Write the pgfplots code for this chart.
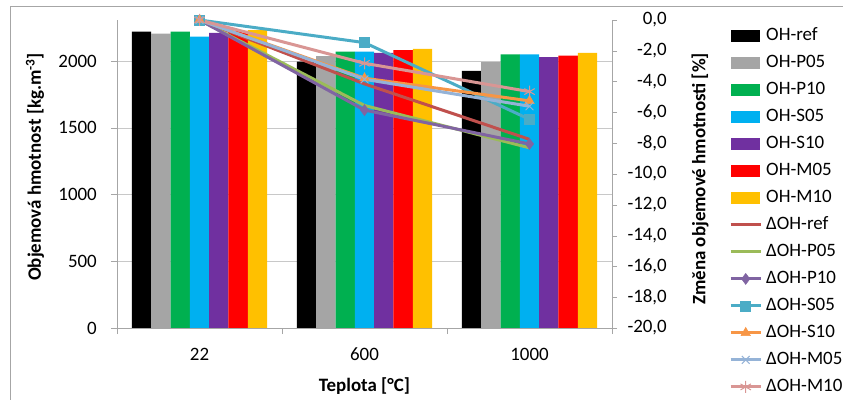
\documentclass[border=0pt]{standalone}
\usepackage{pgfplots}
\pgfplotsset{compat=1.18}
\usepackage{fontspec}
\setmainfont{Carlito}
\definecolor{cRef}{HTML}{C0504D}
\definecolor{cP05}{HTML}{9BBB59}
\definecolor{cP10}{HTML}{8064A2}
\definecolor{cS05}{HTML}{4BACC6}
\definecolor{cS10}{HTML}{F79646}
\definecolor{cM05}{HTML}{95B3D7}
\definecolor{cM10}{HTML}{D99694}
\definecolor{bGray}{HTML}{A5A5A5}
\definecolor{bGreen}{HTML}{00B050}
\definecolor{bCyan}{HTML}{00B0F0}
\definecolor{bPurple}{HTML}{7030A0}
\definecolor{bRed}{HTML}{FF0000}
\definecolor{bYellow}{HTML}{FFC000}
\definecolor{axgray}{HTML}{A6A6A6}
\definecolor{gridgray}{HTML}{C8C8C8}
\pgfplotsset{
  barleg/.style={legend image code/.code={\fill[##1, draw=none] (0bp,-6bp) rectangle (29bp,6bp);}},
  lineleg/.style={legend image code/.code={\draw[mark repeat=2,mark phase=2,##1] plot coordinates {(0bp,0bp) (15bp,0bp) (30bp,0bp)};}},
  thickline/.style={line width=3bp},
}
\newcommand{\tf}{\fontsize{19}{22}\selectfont}
\begin{document}
\begin{tikzpicture}
\useasboundingbox (0,0) rectangle (843bp,400bp);
\draw[axgray, line width=1bp] (10bp,0bp) -- (10bp,393bp) -- (843bp,393bp);
\begin{axis}[
  at={(117bp,72bp)}, anchor=south west,
  scale only axis, width=495bp, height=308bp,
  xmin=-0.5, xmax=2.5, ymin=0, ymax=2307,
  ybar=0pt, bar width=0.117,
  axis x line*=bottom, axis y line*=left,
  axis line style={axgray},
  tick align=outside,
  xtick={0,1,2}, xticklabels={22,600,1000},
  major x tick style={draw=none},
  minor xtick={-0.5,0.5,1.5,2.5},
  minor tick length=6bp, major tick length=6bp,
  tick style={axgray},
  ytick={0,500,...,2000},
  ymajorgrids, grid style={gridgray},
  font=\tf,
  /pgf/number format/1000 sep={},
  /pgf/number format/assume math mode=true,
  yticklabel style={anchor=east, inner sep=0pt, xshift=-14bp},
  xticklabel style={anchor=north, inner sep=0pt, yshift=-14bp},
  xlabel={Teplota [°C]},
  ylabel={Objemová hmotnost [kg.m\textsuperscript{-3}]},
  label style={font=\bfseries\tf},
  xlabel style={at={(axis description cs:0.5,-0.19)}, anchor=center},
  ylabel style={at={(axis description cs:-0.1657,0.523)}, anchor=center},
]
\addplot[fill=black, draw=none] coordinates {(0,2219) (1,1995) (2,1925)};
\addplot[fill=bGray, draw=none] coordinates {(0,2205) (1,2037) (2,1992)};
\addplot[fill=bGreen, draw=none] coordinates {(0,2219) (1,2070) (2,2050)};
\addplot[fill=bCyan, draw=none] coordinates {(0,2182) (1,2070) (2,2050)};
\addplot[fill=bPurple, draw=none] coordinates {(0,2210) (1,2060) (2,2028)};
\addplot[fill=bRed, draw=none] coordinates {(0,2225) (1,2082) (2,2040)};
\addplot[fill=bYellow, draw=none] coordinates {(0,2232) (1,2090) (2,2060)};
\end{axis}
\begin{axis}[
  at={(117bp,72bp)}, anchor=south west,
  scale only axis, width=495bp, height=308bp,
  xmin=-0.5, xmax=2.5, ymin=-20, ymax=0,
  axis x line=none, axis y line*=right,
  axis line style={axgray},
  tick align=outside, major tick length=5bp, tick style={axgray},
  ytick={-20,-18,...,0},
  font=\tf,
  /pgf/number format/assume math mode=true,
  yticklabel style={/pgf/number format/.cd, fixed, fixed zerofill, precision=1, use comma, /tikz/.cd, anchor=east, inner sep=0pt, xshift=50bp},
  ylabel={Změna objemové hmotnosti [\%]},
  label style={font=\bfseries\tf},
  ylabel style={at={(axis description cs:1.1778,0.484)}, anchor=center},
  lineleg,
  legend style={draw=none, fill=none, inner sep=0pt,
    at={(axis description cs:1.2364,0.979)}, anchor=north west,
    font=\tf, row sep=8.5bp, column sep=4bp,
    nodes={inner sep=0pt, text height=14bp, text depth=4.5bp}},
  legend cell align=left,
]
\addlegendimage{barleg, fill=black}\addlegendentry{OH-ref}
\addlegendimage{barleg, fill=bGray}\addlegendentry{OH-P05}
\addlegendimage{barleg, fill=bGreen}\addlegendentry{OH-P10}
\addlegendimage{barleg, fill=bCyan}\addlegendentry{OH-S05}
\addlegendimage{barleg, fill=bPurple}\addlegendentry{OH-S10}
\addlegendimage{barleg, fill=bRed}\addlegendentry{OH-M05}
\addlegendimage{barleg, fill=bYellow}\addlegendentry{OH-M10}
\addplot[draw=cRef, thickline, mark=none] coordinates {(0,0) (1,-4.15) (2,-7.75)};
\addlegendentry{ΔOH-ref}
\addplot[draw=cP05, thickline, mark=none] coordinates {(0,0) (1,-5.55) (2,-8.3)};
\addlegendentry{ΔOH-P05}
\addplot[draw=cP10, thickline, mark=diamond*, mark size=5.5bp, mark options={fill=cP10, line width=0.5bp}] coordinates {(0,0) (1,-5.85) (2,-8.05)};
\addlegendentry{ΔOH-P10}
\addplot[draw=cS05, thickline, mark=square*, mark size=5bp, mark options={fill=cS05, line width=0.5bp}] coordinates {(0,0) (1,-1.47) (2,-6.45)};
\addlegendentry{ΔOH-S05}
\addplot[draw=cS10, thickline, mark=triangle*, mark size=5.5bp, mark options={fill=cS10, line width=0.5bp}] coordinates {(0,0) (1,-3.78) (2,-5.25)};
\addlegendentry{ΔOH-S10}
\addplot[draw=cM05, thickline, mark=x, mark size=5.5bp, mark options={line width=1bp}] coordinates {(0,0) (1,-3.85) (2,-5.6)};
\addlegendentry{ΔOH-M05}
\addplot[draw=cM10, thickline, mark=asterisk, mark size=6bp, mark options={line width=1bp}] coordinates {(0,0) (1,-2.81) (2,-4.65)};
\addlegendentry{ΔOH-M10}
\end{axis}
\end{tikzpicture}
\end{document}
